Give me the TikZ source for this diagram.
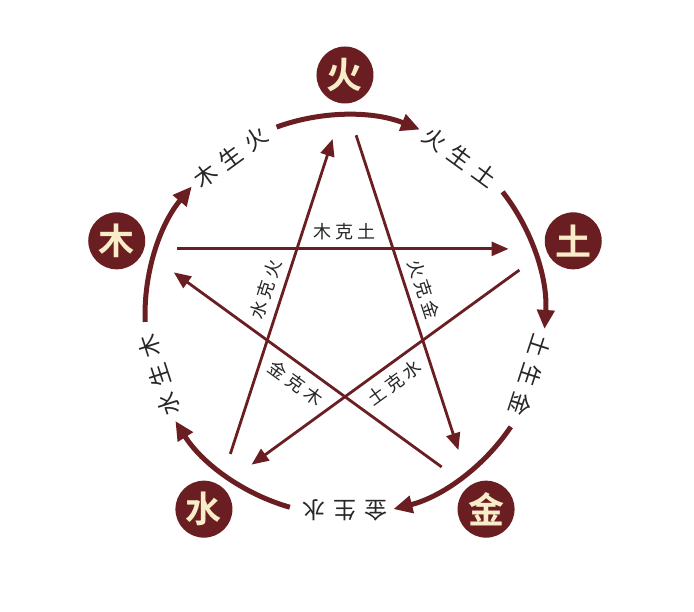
\documentclass[tikz,border=0pt]{standalone}
\usepackage{fontspec}
\newfontfamily\cjk{Noto Sans CJK SC}
\newfontfamily\cjkb{Noto Sans CJK SC Bold}
\usetikzlibrary{arrows.meta}
\definecolor{wxred}{HTML}{6B1E22}
\definecolor{wxcream}{HTML}{F8EDC8}
\definecolor{wxtext}{HTML}{262626}
\newcommand\trio[4]{#1\hspace{#4}#2\hspace{#4}#3}
\begin{document}
\begin{tikzpicture}[x=1pt,y=1pt,
 elem/.style={circle, fill=wxred, minimum size=57pt, inner sep=0pt, text=wxcream, font=\cjkb\fontsize{36}{36}\selectfont},
 cycarrow/.style={line width=5pt, draw=wxred, -{Triangle[length=19pt,width=17pt]}},
 ctrl/.style={line width=2.8pt, draw=wxred, -{Triangle[length=17pt,width=14pt]}, shorten <=36pt, shorten >=40pt},
 clab/.style={text=wxtext, font=\cjk\fontsize{23}{23}\selectfont, inner sep=0pt},
 klab/.style={text=wxtext, font=\cjk\fontsize{18}{18}\selectfont, inner sep=0pt}]
\useasboundingbox (-345,-296) rectangle (349,315);
\fill[white] (-345,-296) rectangle (349,315);
% elements
\node[elem] (huo) at (90:240) {火};
\node[elem] (tu) at (18:240) {土};
\node[elem] (jin) at (306:240) {金};
\node[elem] (shui) at (234:240) {水};
\node[elem] (mu) at (162:240) {木};
% generating cycle arcs
\coordinate (g1) at (110:200);
\coordinate (g2) at (38:200);
\coordinate (g3) at (326:200);
\coordinate (g4) at (254:200);
\coordinate (g5) at (182:200);
\draw[cycarrow] (g1) arc[start angle=110, end angle=68, radius=200];
\draw[cycarrow] (g2) arc[start angle=38, end angle=-4, radius=200];
\draw[cycarrow] (g3) arc[start angle=326, end angle=284, radius=200];
\draw[cycarrow] (g4) arc[start angle=254, end angle=212, radius=200];
\draw[cycarrow] (g5) arc[start angle=182, end angle=140, radius=200];
\node[clab, rotate=-36] (l1) at (54:195) {\trio{火}{生}{土}{8pt}};
\node[clab, rotate=-108] (l2) at (-18:195) {\trio{土}{生}{金}{8pt}};
\node[clab, rotate=180] (l3) at (270:195) {\trio{金}{生}{水}{8pt}};
\node[clab, rotate=108] (l4) at (198:195) {\trio{水}{生}{木}{8pt}};
\node[clab, rotate=36] (l5) at (126:195) {\trio{木}{生}{火}{8pt}};
% controlling star
\coordinate (sh) at (90:214);
\coordinate (st) at (18:214);
\coordinate (sj) at (306:214);
\coordinate (ss) at (234:214);
\coordinate (sm) at (162:214);
\draw[ctrl] (sm) -- (st);
\draw[ctrl] (sh) -- (sj);
\draw[ctrl] (st) -- (ss);
\draw[ctrl] (sj) -- (sm);
\draw[ctrl] (ss) -- (sh);
\node[klab] (k1) at (90:83) {\trio{木}{克}{土}{4pt}};
\node[klab, rotate=-72] (k2) at (18:83) {\trio{火}{克}{金}{4pt}};
\node[klab, rotate=36] (k3) at (-54:84) {\trio{土}{克}{水}{4pt}};
\node[klab, rotate=-36] (k4) at (234:84) {\trio{金}{克}{木}{4pt}};
\node[klab, rotate=72] (k5) at (162:83) {\trio{水}{克}{火}{4pt}};
\end{tikzpicture}
\end{document}
